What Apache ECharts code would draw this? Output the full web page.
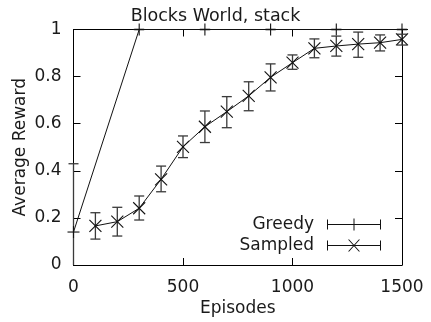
<!DOCTYPE html>
<html>
<head>
<meta charset="utf-8">
<script src="https://cdn.jsdelivr.net/npm/echarts@6/dist/echarts.min.js"></script>
<style>html,body{margin:0;padding:0;background:#fff;}#c{width:431px;height:322px;}</style>
</head>
<body>
<div id="c"></div>
<script>
// Data
const greedyX    = [0, 300, 600, 900, 1200, 1500];
const greedyY    = [0.14, 1, 1, 1, 1, 1];
const greedyLow  = [-0.15, 1, 1, 1, 1, 1];
const greedyHigh = [0.43, 1, 1, 1, 1, 1];

const sampledX    = [100, 200, 300, 400, 500, 600, 700, 800, 900, 1000, 1100, 1200, 1300, 1400, 1500];
const sampledY    = [0.166, 0.184, 0.241, 0.364, 0.502, 0.587, 0.651, 0.718, 0.797, 0.859, 0.920, 0.930, 0.938, 0.944, 0.958];
const sampledLow  = [0.110, 0.123, 0.191, 0.311, 0.456, 0.520, 0.583, 0.655, 0.739, 0.831, 0.880, 0.887, 0.882, 0.909, 0.934];
const sampledHigh = [0.222, 0.245, 0.293, 0.420, 0.548, 0.654, 0.715, 0.778, 0.854, 0.892, 0.960, 0.972, 0.989, 0.977, 0.980];

const xTicks = [0, 500, 1000, 1500];
const yTicks = [0, 0.2, 0.4, 0.6, 0.8, 1];

const FONT = 'DejaVu Sans';
const TXT = '#1a1a1a';

function rows(xs, ys, lo, hi) { return xs.map((x, i) => [x, ys[i], lo[i], hi[i]]); }
function pts(xs, ys) { return xs.map((x, i) => [x, ys[i]]); }

function makeRender(marker) {
  return function (params, api) {
    const x = api.value(0), y = api.value(1), lo = api.value(2), hi = api.value(3);
    const yMin = yTicks[0];
    const clipped = lo < yMin;
    const pHi = api.coord([x, hi]);
    const pLo = api.coord([x, Math.max(lo, yMin)]);
    const p = api.coord([x, y]);
    const es = { stroke: '#3a3a3a', lineWidth: 1.3 };
    const ms = { stroke: '#111', lineWidth: 1.1 };
    const cw = 5, m = 6;
    const ch = [
      { type: 'line', shape: { x1: pHi[0], y1: pHi[1], x2: pLo[0], y2: pLo[1] }, style: es },
      { type: 'line', shape: { x1: pHi[0] - cw, y1: pHi[1], x2: pHi[0] + cw, y2: pHi[1] }, style: es }
    ];
    if (!clipped) ch.push({ type: 'line', shape: { x1: pLo[0] - cw, y1: pLo[1], x2: pLo[0] + cw, y2: pLo[1] }, style: es });
    if (marker === 'plus') {
      ch.push({ type: 'line', shape: { x1: p[0] - m, y1: p[1], x2: p[0] + m, y2: p[1] }, style: ms });
      ch.push({ type: 'line', shape: { x1: p[0], y1: p[1] - m, x2: p[0], y2: p[1] + m }, style: ms });
    } else {
      ch.push({ type: 'line', shape: { x1: p[0] - m, y1: p[1] - m, x2: p[0] + m, y2: p[1] + m }, style: ms });
      ch.push({ type: 'line', shape: { x1: p[0] - m, y1: p[1] + m, x2: p[0] + m, y2: p[1] - m }, style: ms });
    }
    return { type: 'group', children: ch };
  };
}

const iconGreedy = 'path://M0,1L1,1L1,11L0,11ZM0,5.5L54,5.5L54,6.5L0,6.5ZM53,1L54,1L54,11L53,11ZM26.5,0L27.5,0L27.5,12L26.5,12Z';
const iconSampled = 'path://M0,1L1,1L1,11L0,11ZM0,5.5L54,5.5L54,6.5L0,6.5ZM53,1L54,1L54,11L53,11ZM21,0L22.2,0L33,12L31.8,12ZM31.8,0L33,0L22.2,12L21,12Z';

const axisBase = {
  axisLine: { show: true, onZero: false, lineStyle: { color: '#000', width: 1 } },
  axisTick: { show: true, inside: true, length: 7, lineStyle: { color: '#000', width: 1 } },
  splitLine: { show: false }
};
const plainFmt = v => String(v);

const chart = echarts.init(document.getElementById('c'), null, { renderer: 'canvas' });
chart.setOption({
  animation: false,
  backgroundColor: '#fff',
  textStyle: { fontFamily: FONT },
  title: {
    text: 'Blocks World, stack', left: 'center', top: 2,
    textStyle: { fontFamily: FONT, fontSize: 17.5, fontWeight: 'normal', color: TXT }
  },
  grid: { left: 73.5, right: 29, top: 29.5, bottom: 57 },
  legend: {
    orient: 'vertical', right: 45, top: 211, align: 'right',
    itemWidth: 54, itemHeight: 12, itemGap: 4,
    textStyle: { fontFamily: FONT, fontSize: 17, color: TXT, padding: [0, 8, 0, 0] },
    data: [
      { name: 'Greedy', icon: iconGreedy, itemStyle: { color: '#111' } },
      { name: 'Sampled', icon: iconSampled, itemStyle: { color: '#111' } }
    ]
  },
  xAxis: [
    Object.assign({}, axisBase, {
      type: 'value', position: 'bottom', min: xTicks[0], max: xTicks[xTicks.length - 1], interval: 500,
      name: 'Episodes', nameLocation: 'middle', nameGap: 35, nameMoveOverlap: false,
      nameTextStyle: { fontFamily: FONT, fontSize: 17, color: TXT },
      axisLabel: { fontFamily: FONT, fontSize: 17, color: TXT, margin: 14, formatter: plainFmt }
    }),
    Object.assign({}, axisBase, {
      type: 'value', position: 'top', min: xTicks[0], max: xTicks[xTicks.length - 1], interval: 500,
      axisLabel: { show: false }
    })
  ],
  yAxis: [
    Object.assign({}, axisBase, {
      type: 'value', position: 'left', min: yTicks[0], max: yTicks[yTicks.length - 1], interval: 0.2,
      name: 'Average Reward', nameLocation: 'middle', nameGap: 44, nameRotate: 90, nameMoveOverlap: false,
      nameTextStyle: { fontFamily: FONT, fontSize: 17, color: TXT },
      axisLabel: { fontFamily: FONT, fontSize: 17, color: TXT, margin: 12, formatter: plainFmt }
    }),
    Object.assign({}, axisBase, {
      type: 'value', position: 'right', min: yTicks[0], max: yTicks[yTicks.length - 1], interval: 0.2,
      axisLabel: { show: false }
    })
  ],
  series: [
    {
      name: 'Greedy', type: 'line', data: pts(greedyX, greedyY), symbol: 'none',
      lineStyle: { color: '#111', width: 1 }, itemStyle: { color: '#111' }, z: 3
    },
    {
      name: 'Sampled', type: 'line', data: pts(sampledX, sampledY), symbol: 'none',
      lineStyle: { color: '#111', width: 1 }, itemStyle: { color: '#111' }, z: 3
    },
    {
      name: 'greedyErr', type: 'custom', data: rows(greedyX, greedyY, greedyLow, greedyHigh),
      renderItem: makeRender('plus'), z: 4
    },
    {
      name: 'sampledErr', type: 'custom', data: rows(sampledX, sampledY, sampledLow, sampledHigh),
      renderItem: makeRender('x'), z: 4
    }
  ]
});
</script>
</body>
</html>
